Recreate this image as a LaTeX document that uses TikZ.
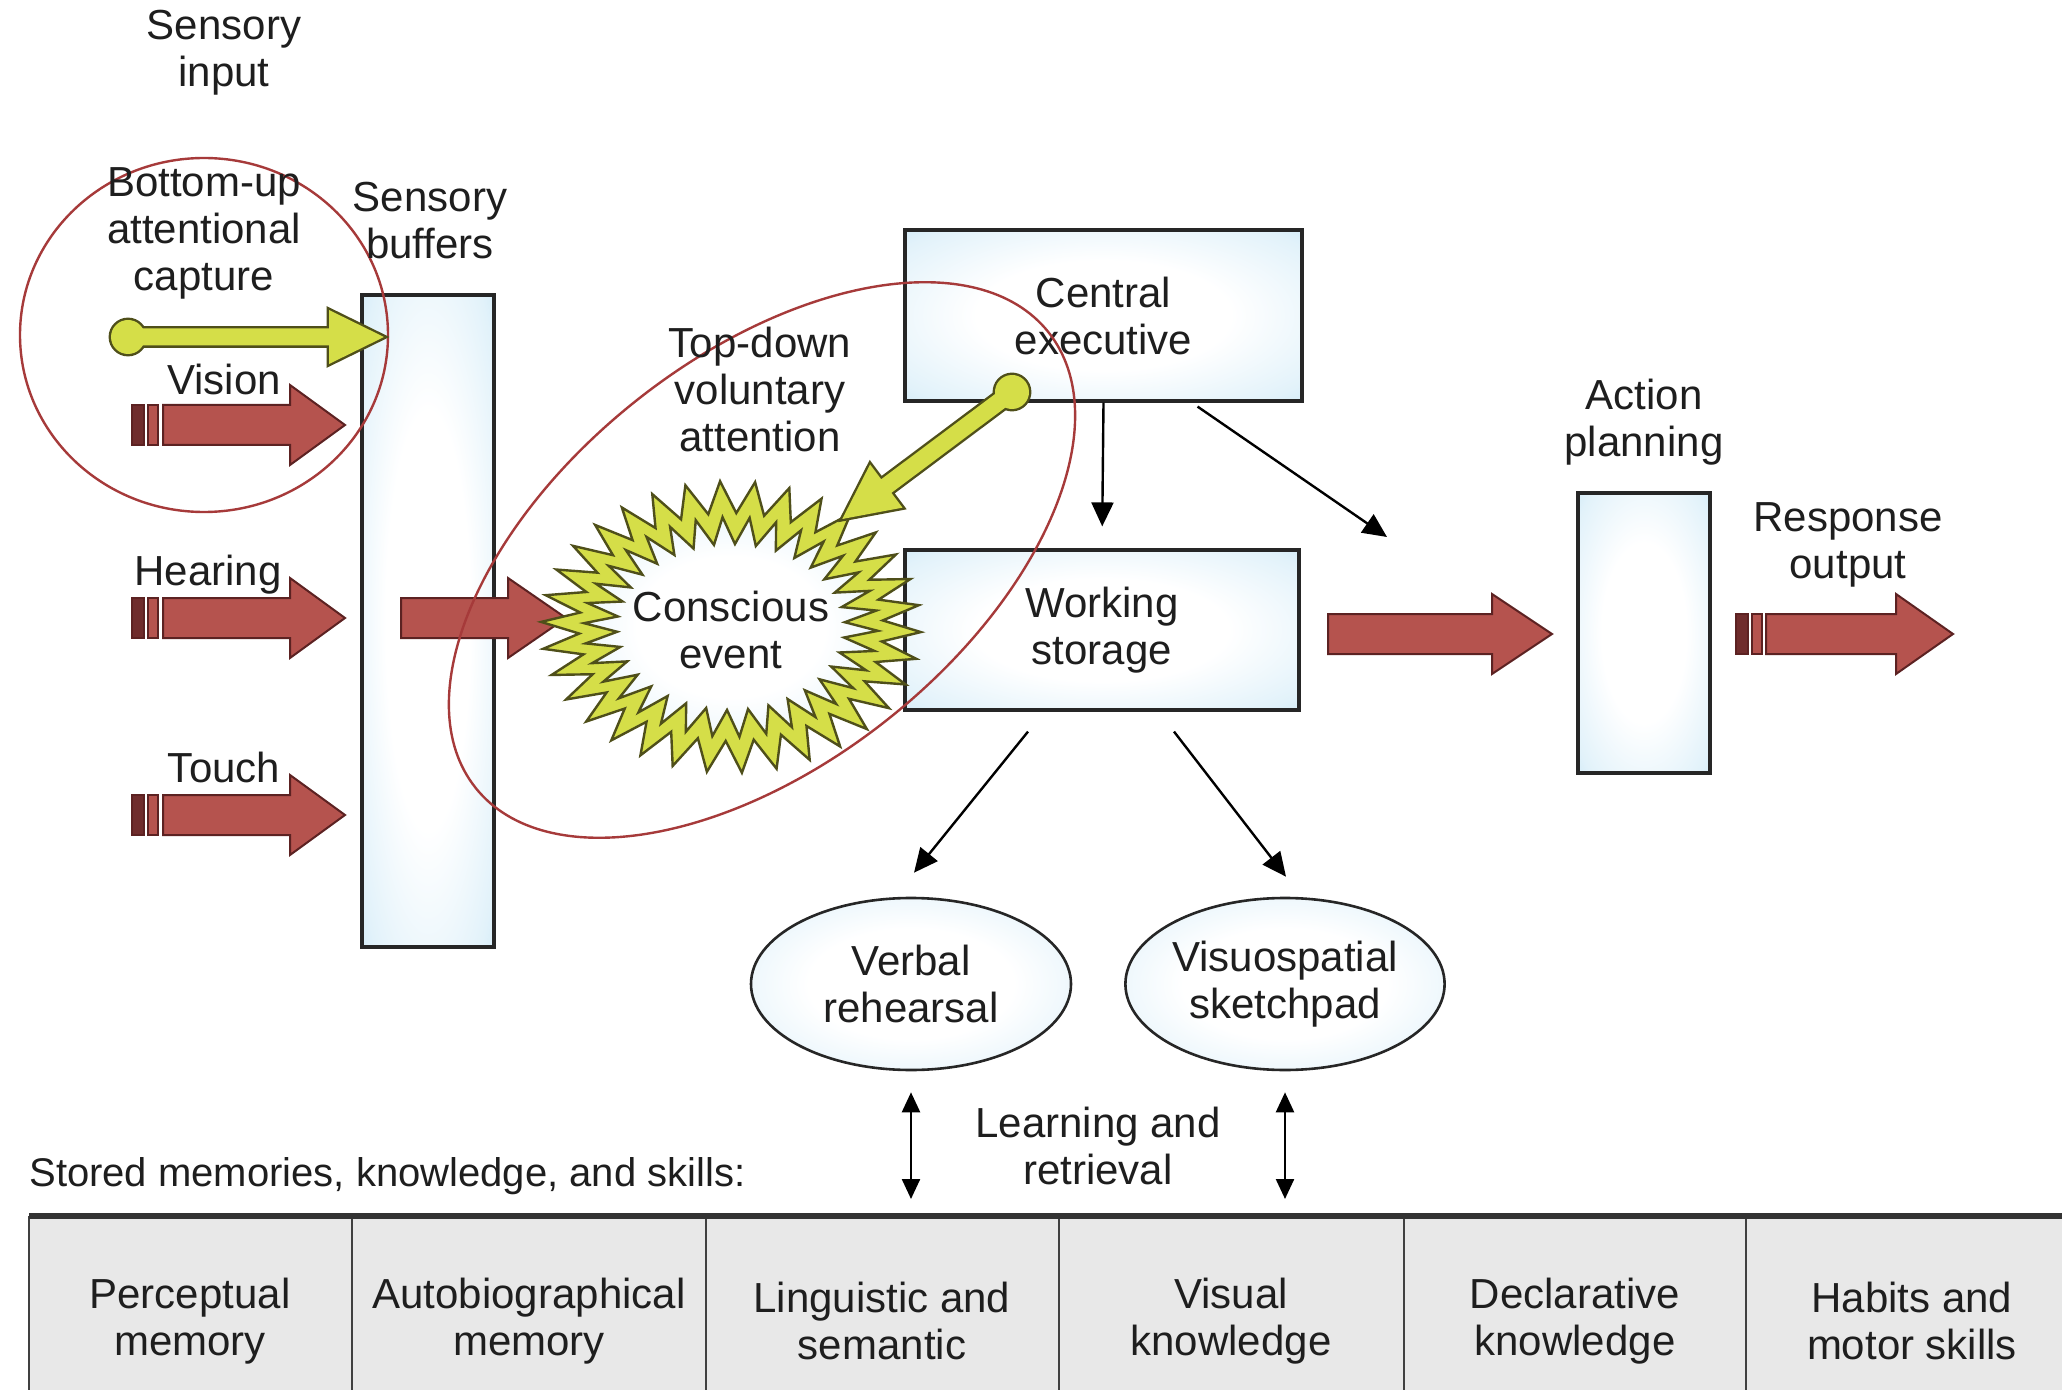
\documentclass[tikz,border=0pt]{standalone}
\usepackage{fontspec}
\setmainfont{Liberation Sans}
\usetikzlibrary{arrows.meta,shapes.geometric,calc}
\definecolor{redfill}{HTML}{B5534E}
\definecolor{redline}{HTML}{5C2222}
\definecolor{reddark}{HTML}{6F2C2C}
\definecolor{yel}{HTML}{D5DE48}
\definecolor{yelline}{HTML}{4F4F1A}
\definecolor{ring}{HTML}{A63A3A}
\definecolor{boxblue}{HTML}{BEE2F4}
\definecolor{boxblue2}{HTML}{A6D7EF}
\definecolor{txt}{HTML}{1E1E1E}
\pgfdeclareradialshading{glow}{\pgfpoint{0bp}{0bp}}{color(0bp)=(white); color(16bp)=(white); color(32bp)=(boxblue!45!white); color(43bp)=(boxblue); color(50bp)=(boxblue2)}
\newcommand{\myfat}[4]{\draw[fatstyle] (#1,#4-20) -- (#2,#4-20) -- (#2,#4-40) -- (#3,#4) -- (#2,#4+40) -- (#2,#4+20) -- (#1,#4+20) -- cycle;}
\newcommand{\mystripes}[2]{\draw[fatstyle, fill=reddark] (#1,#2-20) rectangle (#1+12,#2+20); \draw[fatstyle] (#1+16,#2-20) rectangle (#1+26,#2+20);}
\newcommand{\myyel}[4]{%
\begin{scope}[shift={(#1,#2)}, rotate=#3]
\draw[draw=yelline, line width=2.4pt, line join=miter] (0,0) circle[radius=17];
\draw[draw=yelline, line width=2.4pt, line join=miter] (12,-8.5) -- (#4-55,-8.5) -- (#4-55,-27) -- (#4,0) -- (#4-55,27) -- (#4-55,8.5) -- (12,8.5) -- cycle;
\fill[yel] (0,0) circle[radius=17];
\fill[yel] (12,-8.5) -- (#4-55,-8.5) -- (#4-55,-27) -- (#4,0) -- (#4-55,27) -- (#4-55,8.5) -- (12,8.5) -- cycle;
\end{scope}}
\begin{document}
\begin{tikzpicture}[x=0.5pt, y=-0.5pt,
 every node/.style={font=\fontsize{21}{23.5}\selectfont, align=center, text=txt, inner sep=0pt},
 fatstyle/.style={fill=redfill, draw=redline, line width=1pt, line join=miter},
 boxstyle/.style={draw=black!85, line width=1.6pt, fill=boxblue, shading=glow, rectangle, inner sep=0pt},
 ovalstyle/.style={draw=black!85, line width=1.3pt, fill=boxblue, shading=glow, ellipse, inner sep=0pt},
 thinarrow/.style={draw=black, line width=1.2pt, -{Triangle[length=12pt,width=11pt]}},
 dblarrow/.style={draw=black, line width=1.2pt, {Triangle[length=10pt,width=9pt]}-{Triangle[length=10pt,width=9pt]}},
 ringstyle/.style={draw=ring, line width=1.2pt}]
\useasboundingbox (0,0) rectangle (2062,1390);
\fill[white] (0,0) rectangle (2062,1390);

% ---- table of stored memories
\fill[black!9] (29,1216) rectangle (2062,1390);
\foreach \cx in {29,352,706,1059,1404,1746}{\draw[line width=1pt, black!75] (\cx,1216) -- (\cx,1390);}
\draw[line width=2.6pt, black!80] (29,1216) -- (2062,1216);
\coordinate (tabtop) at (1098,1199);
\node[anchor=west, font=\fontsize{20}{23}\selectfont] (stored) at (29,1176) {Stored memories, knowledge, and skills:};
\node (t1) at (190,1321) {Perceptual\\memory};
\node (t2) at (529,1321) {Autobiographical\\memory};
\node (t3) at (882,1321) {Linguistic and\\semantic};
\node (t4) at (1231,1321) {Visual\\knowledge};
\node (t5) at (1575,1321) {Declarative\\knowledge};
\node (t6) at (1912,1321) {Habits and\\motor skills};

% ---- boxes
\node[boxstyle, minimum width=66pt, minimum height=326pt] (buf) at (428,621) {};
\node[boxstyle, minimum width=198.5pt, minimum height=85.5pt] (ce) at (1103.5,315.5) {Central\\executive};
\node[boxstyle, minimum width=197pt, minimum height=80pt] (ws) at (1102,630) {Working\\storage};
\node[boxstyle, minimum width=66pt, minimum height=140pt] (ap) at (1644,633) {};
\node[ovalstyle, minimum width=160pt, minimum height=86pt] (verbal) at (911,984) {Verbal\\rehearsal};
\node[ovalstyle, minimum width=158pt, minimum height=86pt] (visuo) at (1285,984) {Visuospatial\\sketchpad};

% ---- big red arrows
\mystripes{132}{425}\myfat{163}{290}{345}{425}
\mystripes{132}{618}\myfat{163}{290}{345}{618}
\mystripes{132}{815}\myfat{163}{290}{345}{815}
\myfat{401}{508}{566}{618}
\myfat{1328}{1492}{1552}{634}
\mystripes{1736}{634}\myfat{1766}{1896}{1953}{634}

% ---- conscious event star (zig-zag ring)
\begin{scope}[shift={(731,627)}]
\filldraw[fill=yel, draw=yelline, line width=1.2pt, line join=miter] ({cos(2)*190},{sin(2)*146}) \foreach \k in {0,...,33} { -- ({cos(\k*10.588+2)*190},{sin(\k*10.588+2)*146}) -- ({cos(\k*10.588+7.294)*152},{sin(\k*10.588+7.294)*114}) } -- cycle;
\path[fill=boxblue, shading=glow, draw=yelline, line width=1.2pt, line join=miter] ({cos(2)*147},{sin(2)*110}) \foreach \k in {0,...,33} { -- ({cos(\k*10.588+2)*147},{sin(\k*10.588+2)*110}) -- ({cos(\k*10.588+7.294)*114},{sin(\k*10.588+7.294)*83}) } -- cycle;
\end{scope}
\node (event) at (731,630) {Conscious\\event};

% ---- attention rings
\draw[ringstyle] (204,335) ellipse [x radius=184, y radius=177];
\draw[ringstyle, rotate around={38.5:(762,560)}] (762,560) ellipse [x radius=366, y radius=203];

% ---- yellow attention arrows
\myyel{128}{337}{0}{256}
\myyel{1012}{392}{216.8}{212}

% ---- thin arrows
\coordinate (toaction) at (1387,537);
\draw[thinarrow, shorten >=11pt] (ce.south) -- (ws.north);
\draw[thinarrow] ($(ce.south west)!0.735!(ce.south east)+(0,4)$) -- (toaction);
\draw[thinarrow] ($(ws.south)+(-74,20)$) -- ($(verbal.north)+(3,-24)$);
\draw[thinarrow] ($(ws.south)+(72,20)$) -- ($(visuo.north)+(1,-20)$);
\draw[dblarrow] ($(verbal.south)+(0,21)$) -- (verbal.south |- tabtop);
\draw[dblarrow] ($(visuo.south)+(0,21)$) -- (visuo.south |- tabtop);

% ---- labels
\node (sensin) at (224,53) {Sensory\\input};
\node (bottomup) at (204,233) {Bottom-up\\attentional\\capture};
\node (sensbuf) at (430,221) {Sensory\\buffers};
\node (vision) at (224,379) {Vision};
\node (hearing) at (208,575) {Hearing};
\node (touch) at (224,767) {Touch};
\node (topdown) at (760,389) {Top-down\\voluntary\\attention};
\node (actplan) at (1644,422) {Action\\planning};
\node (respout) at (1848,545) {Response\\output};
\node (learn) at (1098,1146) {Learning and\\retrieval};
\end{tikzpicture}
\end{document}
